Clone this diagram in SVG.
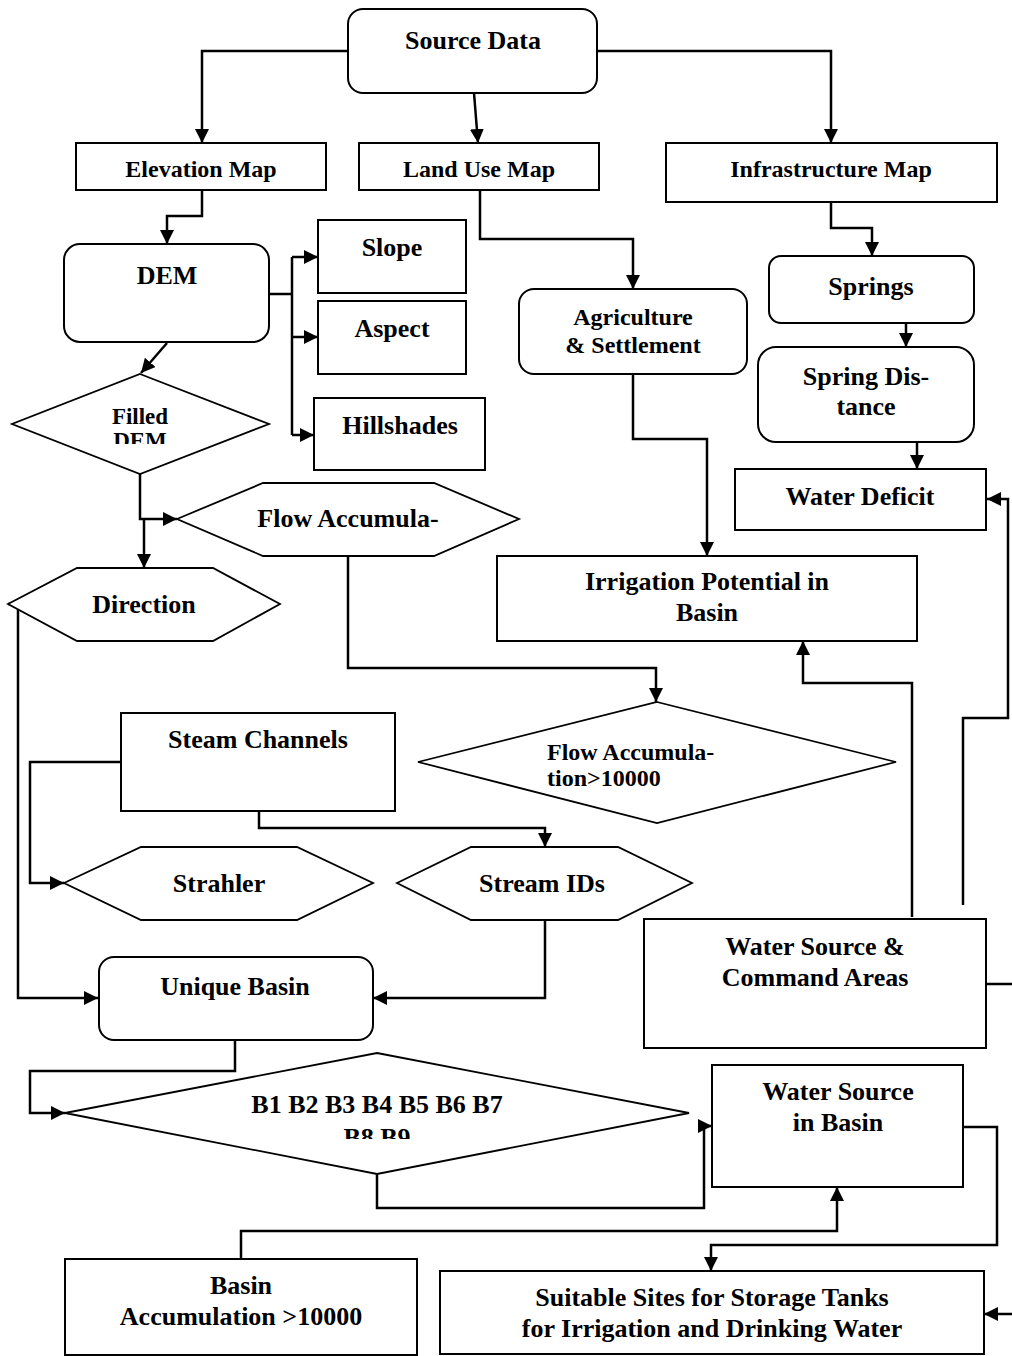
<svg xmlns="http://www.w3.org/2000/svg" width="1012" height="1356" viewBox="0 0 1012 1356">
<style>
.box{fill:#fff;stroke:#000;stroke-width:2}
.shp{fill:#fff;stroke:#000;stroke-width:1.8}
.c{fill:none;stroke:#000;stroke-width:2.5}
.a{marker-end:url(#ah)}
text{font-family:"Liberation Serif","Times New Roman",serif;font-weight:bold;font-size:26px;text-anchor:middle;fill:#000}
.s24{font-size:24px}
.s23{font-size:23px}
</style>
<defs>
<marker id="ah" markerUnits="userSpaceOnUse" markerWidth="16" markerHeight="16" refX="14" refY="7" orient="auto"><path d="M0,0 L14,7 L0,14 z" fill="#000"/></marker>
<clipPath id="clipFilled"><rect x="0" y="380" width="300" height="64"/></clipPath>
<clipPath id="clipB"><rect x="60" y="1060" width="640" height="79"/></clipPath>
</defs>

<g id="connectors">
<path class="c a" d="M348,51 L202,51 L202,143"/>
<path class="c a" d="M597,51 L831,51 L831,143"/>
<path class="c a" d="M474,93 L478,143"/>
<path class="c a" d="M202,190 L202,216 L167,216 L167,244"/>
<path class="c" d="M269,294 L292,294 M292,257 L292,435"/>
<path class="c a" d="M292,257 L318,257"/>
<path class="c a" d="M292,337 L318,337"/>
<path class="c a" d="M292,435 L314,435"/>
<path class="c a" d="M167,343 L141,373"/>
<path class="c a" d="M140,474 L140,519 L177,519"/>
<path class="c a" d="M144,519 L144,568"/>
<path class="c a" d="M8,604 L18,604 L18,998 L98,998"/>
<path class="c a" d="M348,556 L348,668 L656,668 L656,702"/>
<path class="c a" d="M480,190 L480,239 L633,239 L633,289"/>
<path class="c a" d="M633,374 L633,439 L707,439 L707,556"/>
<path class="c a" d="M831,202 L831,228 L872,228 L872,256"/>
<path class="c a" d="M906,313 L906,347"/>
<path class="c a" d="M917,433 L917,469"/>
<path class="c a" d="M912,917 L912,683 L803,683 L803,641"/>
<path class="c a" d="M963,905 L963,718 L1008,718 L1008,499 L987,499"/>
<path class="c a" d="M121,762 L30,762 L30,883 L64,883"/>
<path class="c a" d="M259,811 L259,828 L545,828 L545,847"/>
<path class="c a" d="M545,920 L545,998 L373,998"/>
<path class="c a" d="M235,1040 L235,1071 L30,1071 L30,1113 L65,1113"/>
<path class="c a" d="M377,1174 L377,1208 L704,1208 L704,1126 L712,1126"/>
<path class="c a" d="M241,1259 L241,1231 L837,1231 L837,1187"/>
<path class="c a" d="M963,1127 L997,1127 L997,1245 L711,1245 L711,1271"/>
<path class="c" d="M986,984 L1014,984"/>
<path class="c a" d="M1014,1314 L984,1314"/>
</g>

<g id="source-data"><rect class="box" x="348" y="9" width="249" height="84" rx="15"/><text x="473" y="49">Source Data</text></g>
<g id="elevation-map"><rect class="box" x="76" y="143" width="250" height="47"/><text class="s24" x="201" y="177">Elevation Map</text></g>
<g id="land-use-map"><rect class="box" x="359" y="143" width="240" height="47"/><text class="s24" x="479" y="177">Land Use Map</text></g>
<g id="infrastructure-map"><rect class="box" x="666" y="143" width="331" height="59"/><text class="s24" x="831" y="177">Infrastructure Map</text></g>

<g id="dem"><rect class="box" x="64" y="244" width="205" height="98" rx="16"/><text x="167" y="284">DEM</text></g>
<g id="slope"><rect class="box" x="318" y="220" width="148" height="73"/><text x="392" y="256">Slope</text></g>
<g id="aspect"><rect class="box" x="318" y="301" width="148" height="73"/><text x="392" y="337">Aspect</text></g>
<g id="hillshades"><rect class="box" x="314" y="398" width="171" height="72"/><text x="400" y="434">Hillshades</text></g>
<g id="filled-dem"><polygon class="shp" points="140,374 269,424 140,474 12,424"/><text class="s23" x="140" y="424">Filled</text><text class="s23" x="140" y="448" clip-path="url(#clipFilled)">DEM</text></g>

<g id="agriculture"><rect class="box" x="519" y="289" width="228" height="85" rx="15"/><text class="s24" x="633" y="325">Agriculture</text><text class="s24" x="633" y="353">&amp; Settlement</text></g>
<g id="springs"><rect class="box" x="769" y="256" width="205" height="67" rx="12"/><text x="871" y="295">Springs</text></g>
<g id="spring-distance"><rect class="box" x="758" y="347" width="216" height="95" rx="18"/><text x="866" y="385">Spring Dis-</text><text x="866" y="415">tance</text></g>
<g id="water-deficit"><rect class="box" x="735" y="469" width="251" height="61"/><text x="860" y="505">Water Deficit</text></g>

<g id="flow-accumulation"><polygon class="shp" points="177,519 263,483 434,483 519,519 434,556 263,556"/><text x="348" y="527">Flow Accumula-</text></g>
<g id="direction"><polygon class="shp" points="8,604 77,568 213,568 280,604 213,641 77,641"/><text x="144" y="613">Direction</text></g>

<g id="irrigation-potential"><rect class="box" x="497" y="556" width="420" height="85"/><text x="707" y="590">Irrigation Potential in</text><text x="707" y="621">Basin</text></g>
<g id="flow-accumulation-10000"><polygon class="shp" points="657,702 896,762 657,823 418,762"/><text class="s24" x="547" y="760" style="text-anchor:start">Flow Accumula-</text><text class="s24" x="547" y="786" style="text-anchor:start">tion&gt;10000</text></g>

<g id="steam-channels"><rect class="box" x="121" y="713" width="274" height="98"/><text x="258" y="748">Steam Channels</text></g>
<g id="strahler"><polygon class="shp" points="64,883 141,847 297,847 373,883 297,920 141,920"/><text x="219" y="892">Strahler</text></g>
<g id="stream-ids"><polygon class="shp" points="397,883 471,847 618,847 692,883 618,920 471,920"/><text x="542" y="892">Stream IDs</text></g>
<g id="unique-basin"><rect class="box" x="99" y="957" width="274" height="83" rx="15"/><text x="235" y="995">Unique Basin</text></g>

<g id="water-source-command"><rect class="box" x="644" y="919" width="342" height="129"/><text x="815" y="955">Water Source &amp;</text><text x="815" y="986">Command Areas</text></g>

<g id="basins"><polygon class="shp" points="377,1053 689,1113 377,1174 65,1113"/><text x="377" y="1113">B1 B2 B3 B4 B5 B6 B7</text><text x="377" y="1146" clip-path="url(#clipB)">B8 B9</text></g>
<g id="water-source-basin"><rect class="box" x="712" y="1065" width="251" height="122"/><text x="838" y="1100">Water Source</text><text x="838" y="1131">in Basin</text></g>

<g id="basin-accumulation"><rect class="box" x="65" y="1259" width="352" height="96"/><text x="241" y="1294">Basin</text><text x="241" y="1325">Accumulation &gt;10000</text></g>
<g id="suitable-sites"><rect class="box" x="440" y="1271" width="544" height="83"/><text x="712" y="1306">Suitable Sites for Storage Tanks</text><text x="712" y="1337">for Irrigation and Drinking Water</text></g>
</svg>
